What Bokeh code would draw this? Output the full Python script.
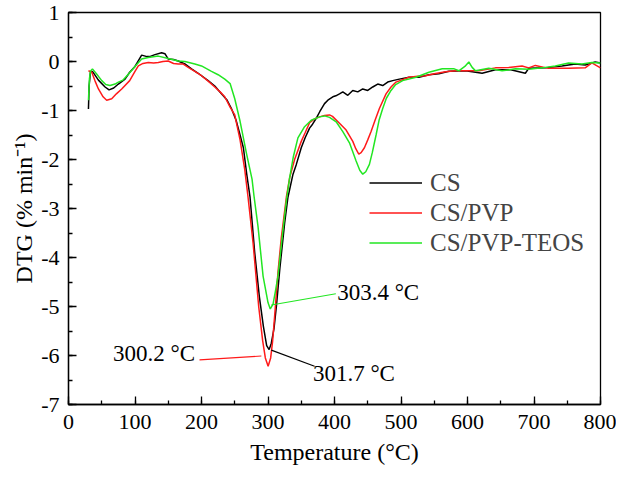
from bokeh.plotting import figure
from bokeh.models import Range1d, SingleIntervalTicker, Legend, LegendItem, Title, ColumnDataSource
from bokeh.core.properties import value
from bokeh.embed import file_html
from bokeh.resources import INLINE

# ---------------- data ----------------
temp_cs = [30, 31, 33, 36, 45, 55, 61, 68, 75, 85, 92, 100, 110, 118, 122, 130, 140, 145, 150, 158,
           165, 175, 185, 195, 210, 220, 230, 238, 245, 252, 258, 263, 268, 273, 280, 287, 293, 298,
           301.7, 305, 309, 312.6, 318, 325, 330, 337.6, 342.6, 350, 356, 362.5, 367, 372.5, 378, 385,
           390, 397.5, 402, 407.5, 412.5, 420, 427.5, 435, 442.5, 450, 457.5, 465, 472.5, 480, 487.5,
           497.5, 512, 527, 542, 557, 572, 597, 622, 642, 665, 687, 692, 717, 742, 762, 777, 792, 800]
dtg_cs = [-0.97, -0.5, -0.22, -0.2, -0.38, -0.52, -0.58, -0.54, -0.46, -0.36, -0.22, -0.1, 0.13, 0.1,
          0.1, 0.14, 0.18, 0.16, 0.05, 0.04, 0.01, -0.05, -0.15, -0.24, -0.39, -0.5, -0.66, -0.78,
          -0.96, -1.2, -1.5, -1.76, -2.3, -2.77, -3.9, -4.8, -5.4, -5.8, -5.88, -5.75, -5.45, -5.0,
          -4.2, -3.3, -2.77, -2.3, -2.1, -1.76, -1.55, -1.36, -1.28, -1.16, -1.02, -0.86, -0.79,
          -0.72, -0.7, -0.66, -0.62, -0.69, -0.59, -0.62, -0.56, -0.59, -0.52, -0.46, -0.49, -0.42,
          -0.39, -0.36, -0.32, -0.32, -0.27, -0.25, -0.2, -0.19, -0.24, -0.17, -0.17, -0.24, -0.14,
          -0.13, -0.09, -0.05, -0.07, -0.01, -0.03]

temp_pvp = [30, 35, 40, 45, 52, 57.4, 65, 72, 80, 92, 100, 105, 112, 120, 128, 135, 142, 150, 158, 165,
            172, 180, 190, 200, 210, 220, 228, 235, 243, 250, 258, 265, 270, 277.6, 286, 292, 296,
            300.2, 304, 307, 310, 315, 320, 327.6, 332.6, 340, 350, 356, 362.5, 370, 377.5, 385, 392.5,
            397, 400, 407.5, 417.5, 427.5, 432, 436.5, 440, 445, 450, 455, 461, 467.5, 477.5, 485,
            492.5, 512, 525, 537, 550, 567, 582, 592, 617, 642, 662, 682, 692, 702, 722, 752, 777,
            787, 800]
dtg_pvp = [-0.19, -0.22, -0.4, -0.56, -0.72, -0.79, -0.76, -0.66, -0.56, -0.39, -0.2, -0.09, -0.04,
           -0.02, -0.03, -0.02, 0.0, 0.01, -0.04, -0.05, -0.05, -0.12, -0.2, -0.29, -0.4, -0.52, -0.62,
           -0.72, -0.93, -1.09, -1.6, -2.2, -2.77, -3.71, -5.0, -5.7, -6.05, -6.22, -6.05, -5.7, -5.19,
           -4.3, -3.6, -2.77, -2.37, -2.0, -1.63, -1.45, -1.25, -1.17, -1.13, -1.1, -1.09, -1.12,
           -1.16, -1.26, -1.4, -1.63, -1.78, -1.89, -1.86, -1.76, -1.6, -1.43, -1.2, -0.96, -0.66,
           -0.52, -0.42, -0.32, -0.3, -0.29, -0.25, -0.21, -0.19, -0.19, -0.19, -0.13, -0.12, -0.09,
           -0.13, -0.08, -0.14, -0.14, -0.13, -0.03, -0.13]

temp_teos = [30, 31.5, 33, 36, 42, 50, 56, 62.4, 70, 75, 82, 90, 100, 110, 120, 135, 150, 165, 175,
             190, 200, 215, 225, 235, 243, 250, 258, 268, 276, 279, 285, 292.6, 300, 303.4, 307.6,
             311, 315, 322.5, 328, 332.6, 338, 345, 355, 365, 377.5, 385, 392.5, 402.5, 412.5, 422.5,
             432.5, 438, 442.5, 447, 452.5, 457, 462.5, 467, 472.5, 478, 485, 492, 502.5, 522.5, 542,
             562, 580, 587, 596, 602, 607, 612, 632, 652, 672, 692, 712, 732, 752, 772, 787, 800]
dtg_teos = [-0.79, -0.35, -0.2, -0.15, -0.25, -0.39, -0.47, -0.49, -0.46, -0.42, -0.38, -0.26, -0.1,
            0.05, 0.08, 0.11, 0.06, 0.01, 0.0, -0.05, -0.09, -0.2, -0.27, -0.36, -0.45, -0.76, -1.22,
            -1.9, -2.4, -2.75, -3.37, -4.38, -4.92, -5.05, -4.95, -4.7, -4.38, -3.44, -2.8, -2.37,
            -1.95, -1.56, -1.33, -1.2, -1.13, -1.11, -1.14, -1.23, -1.43, -1.66, -2.03, -2.22, -2.3,
            -2.25, -2.1, -1.85, -1.5, -1.2, -0.96, -0.75, -0.59, -0.47, -0.39, -0.32, -0.22, -0.15,
            -0.15, -0.19, -0.1, -0.01, -0.12, -0.19, -0.14, -0.19, -0.15, -0.16, -0.13, -0.09, -0.03,
            -0.05, -0.02, -0.03]

series_names = ["CS", "CS/PVP", "CS/PVP-TEOS"]
series_colors = ["#000000", "#ff1a1a", "#22e622"]

# peak annotations: text, text anchor, leader start, leader end
peak_texts = ["300.2 °C", "301.7 °C", "303.4 °C"]
peak_text_x = [67, 367.5, 404]
peak_text_y = [-5.95, -6.36, -4.72]
leader_x0 = [197, 305, 305]
leader_y0 = [-6.09, -5.89, -4.97]
leader_x1 = [290, 370, 402]
leader_y1 = [-6.01, -6.22, -4.74]
peak_colors = ["#ff1a1a", "#000000", "#22e622"]

x_tick_values = [0, 100, 200, 300, 400, 500, 600, 700, 800]
y_tick_values = [-7, -6, -5, -4, -3, -2, -1, 0, 1]
x_label = "Temperature (°C)"
y_label = "DTG (% min\u207b\u00b9)"

FONT = "Liberation Serif"

# ---------------- figure ----------------
p = figure(width=616, height=471, output_backend="svg", toolbar_location=None,
           x_range=Range1d(0, 800), y_range=Range1d(-7, 1),
           min_border_left=68, min_border_right=16, min_border_top=12, min_border_bottom=67)
p.xgrid.visible = False
p.ygrid.visible = False
p.outline_line_color = "black"
p.outline_line_width = 1.3
p.outline_line_alpha = 1.0
p.background_fill_color = "white"
p.border_fill_color = "white"

p.xaxis.ticker = SingleIntervalTicker(interval=100, num_minor_ticks=2)
p.yaxis.ticker = SingleIntervalTicker(interval=1, num_minor_ticks=2)
p.xaxis.major_label_overrides = {v: str(v) for v in x_tick_values}
p.yaxis.major_label_overrides = {v: str(v) for v in y_tick_values}
for ax in (p.xaxis[0], p.yaxis[0]):
    ax.axis_line_color = "black"
    ax.axis_line_width = 1.3
    ax.major_tick_in = 8
    ax.major_tick_out = 0
    ax.minor_tick_in = 4
    ax.minor_tick_out = 0
    ax.major_tick_line_color = "black"
    ax.minor_tick_line_color = "black"
    ax.major_tick_line_width = 1.3
    ax.minor_tick_line_width = 1.3
    ax.major_label_text_font = FONT
    ax.major_label_text_font_size = "22px"
    ax.major_label_text_color = "black"
p.xaxis.major_label_standoff = 10
p.yaxis.major_label_standoff = 9

renderers = []
for tx, ty, c in ((temp_cs, dtg_cs, series_colors[0]),
                  (temp_pvp, dtg_pvp, series_colors[1]),
                  (temp_teos, dtg_teos, series_colors[2])):
    r = p.line(tx, ty, line_color=c, line_width=1.5)
    renderers.append(r)

# leader lines and peak labels
src = ColumnDataSource(dict(x0=leader_x0, y0=leader_y0, x1=leader_x1, y1=leader_y1, c=peak_colors,
                            tx=peak_text_x, ty=peak_text_y, t=peak_texts))
p.segment(x0="x0", y0="y0", x1="x1", y1="y1", line_color="c", line_width=1.1, source=src)
p.text(x="tx", y="ty", text="t", source=src, text_font=value(FONT), text_font_size="23px",
       text_align="left", text_baseline="middle", text_color="black")

legend = Legend(items=[LegendItem(label=n, renderers=[r]) for n, r in zip(series_names, renderers)],
                location=(301, 147))
legend.border_line_color = None
legend.background_fill_alpha = 0
legend.padding = 0
legend.margin = 0
legend.spacing = 1
legend.glyph_width = 53
legend.glyph_height = 29
legend.label_height = 29
legend.label_standoff = 8
legend.label_text_font = FONT
legend.label_text_font_size = "25px"
p.add_layout(legend)

p.add_layout(Title(text=x_label, align="center", offset=16, standoff=10, text_font=FONT,
                   text_font_size="24px", text_font_style="normal", text_color="black"), "below")
p.add_layout(Title(text=y_label, align="center", offset=10, standoff=4, text_font=FONT,
                   text_font_size="24px", text_font_style="normal", text_color="black"), "left")

open("out.html", "w").write(file_html(p, INLINE))
